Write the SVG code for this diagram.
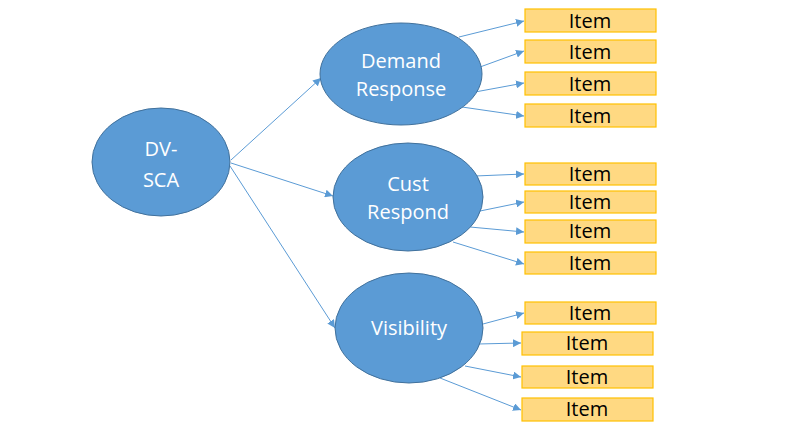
<svg xmlns="http://www.w3.org/2000/svg" width="798" height="444" viewBox="0 0 798 444">
<style>
.node ellipse{fill:#5B9BD5;stroke:#41719C;stroke-width:1}
.node text{fill:#fff;font-family:"Open Sans","Liberation Sans",sans-serif;font-size:20px;text-anchor:middle}
.item rect{fill:#FFD982;stroke:#FFC000;stroke-width:1.2}
.item text{fill:#000;font-family:"Open Sans","Liberation Sans",sans-serif;font-size:20px;text-anchor:middle}
.edges line{stroke:#5B9BD5;stroke-width:1;marker-end:url(#arr)}
</style>
<defs>
<marker id="arr" viewBox="0 0 10 10" refX="10" refY="5" markerWidth="8" markerHeight="8" markerUnits="userSpaceOnUse" orient="auto">
<path d="M0,0 L10,5 L0,10 z" fill="#5B9BD5"/>
</marker>
</defs>
<rect width="798" height="444" fill="#fff"/>
<g class="edges" id="connectors">
<line x1="231" y1="160" x2="321" y2="78"/>
<line x1="231" y1="163" x2="333" y2="196"/>
<line x1="230" y1="166" x2="335" y2="328"/>
<line x1="459" y1="37" x2="524" y2="21"/>
<line x1="480" y1="67" x2="524" y2="51"/>
<line x1="475" y1="92" x2="524" y2="83"/>
<line x1="462" y1="107" x2="524" y2="116"/>
<line x1="475" y1="176" x2="524" y2="174"/>
<line x1="480" y1="211" x2="524" y2="202"/>
<line x1="470" y1="227" x2="524" y2="232"/>
<line x1="453" y1="242" x2="524" y2="264"/>
<line x1="483" y1="324" x2="524" y2="313"/>
<line x1="478" y1="344" x2="521" y2="343"/>
<line x1="465" y1="366" x2="521" y2="377"/>
<line x1="440" y1="378" x2="521" y2="410"/>
</g>
<g class="node" id="dvsca"><ellipse cx="161" cy="162" rx="69" ry="54"/><text x="161" y="156">DV-</text><text x="161" y="187">SCA</text></g>
<g class="node" id="demand"><ellipse cx="401" cy="74" rx="81" ry="51"/><text x="401" y="68">Demand</text><text x="401" y="96">Response</text></g>
<g class="node" id="cust"><ellipse cx="408" cy="197" rx="75" ry="54"/><text x="408" y="191">Cust</text><text x="408" y="219">Respond</text></g>
<g class="node" id="visibility"><ellipse cx="409" cy="328" rx="74" ry="55"/><text x="409" y="335">Visibility</text></g>
<g class="item" id="item1"><rect x="525" y="9" width="131" height="23"/><text x="590" y="28">Item</text></g>
<g class="item" id="item2"><rect x="525" y="40" width="131" height="23"/><text x="590" y="59">Item</text></g>
<g class="item" id="item3"><rect x="525" y="72" width="131" height="23"/><text x="590" y="91">Item</text></g>
<g class="item" id="item4"><rect x="525" y="104" width="131" height="23"/><text x="590" y="123">Item</text></g>
<g class="item" id="item5"><rect x="525" y="163" width="131" height="22"/><text x="590" y="181">Item</text></g>
<g class="item" id="item6"><rect x="525" y="191" width="131" height="22"/><text x="590" y="209">Item</text></g>
<g class="item" id="item7"><rect x="525" y="220" width="131" height="23"/><text x="590" y="238">Item</text></g>
<g class="item" id="item8"><rect x="525" y="252" width="131" height="22"/><text x="590" y="270">Item</text></g>
<g class="item" id="item9"><rect x="525" y="302" width="131" height="22"/><text x="590" y="320">Item</text></g>
<g class="item" id="item10"><rect x="522" y="332" width="131" height="23"/><text x="587" y="350">Item</text></g>
<g class="item" id="item11"><rect x="522" y="366" width="131" height="22"/><text x="587" y="384">Item</text></g>
<g class="item" id="item12"><rect x="522" y="398" width="131" height="23"/><text x="587" y="416">Item</text></g>
</svg>
